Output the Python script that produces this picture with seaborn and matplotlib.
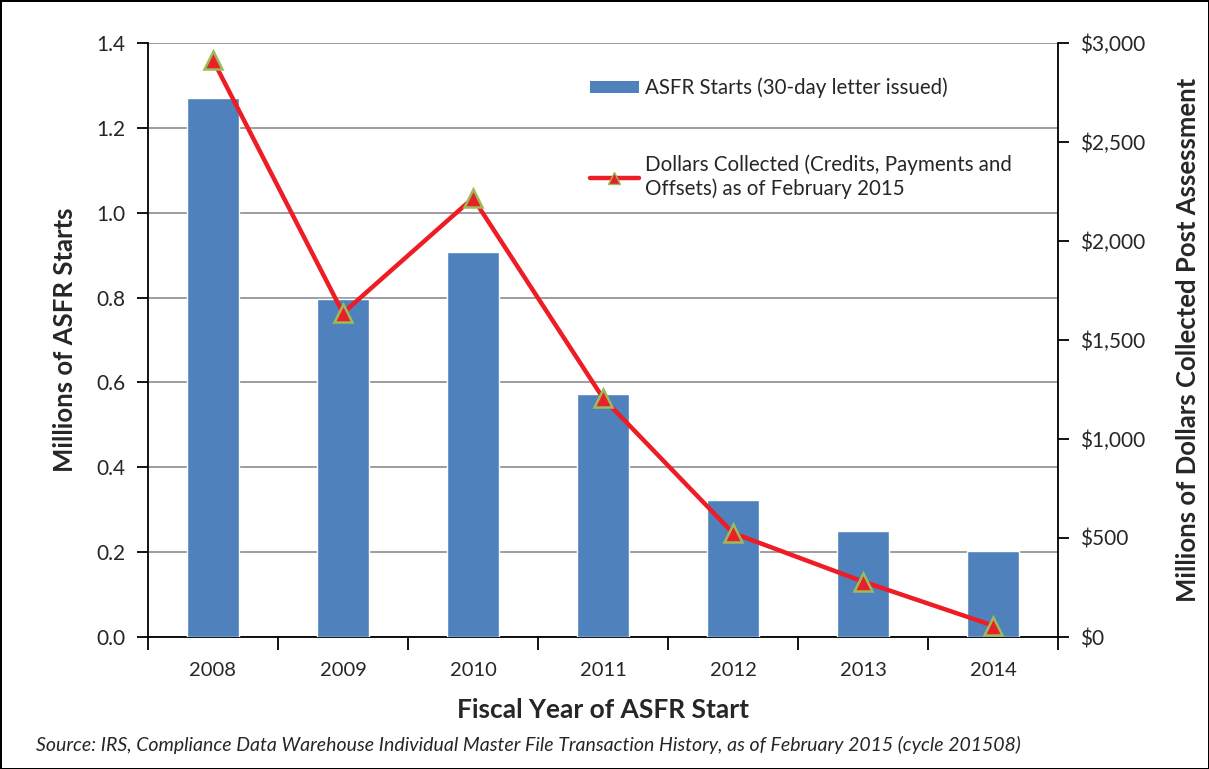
import matplotlib
matplotlib.use("Agg")
import matplotlib.pyplot as plt
import seaborn as sns
import numpy as np
import pandas as pd
from matplotlib.ticker import FuncFormatter, FixedLocator, MultipleLocator
from matplotlib.lines import Line2D
from matplotlib.patches import Patch

years = ["2008", "2009", "2010", "2011", "2012", "2013", "2014"]
asfr_starts = [1.27, 0.797, 0.907, 0.573, 0.323, 0.25, 0.203]
dollars_collected = [2914, 1636, 2217, 1207, 525, 280, 58]

bar_label = "ASFR Starts (30-day letter issued)"
line_label = "Dollars Collected (Credits, Payments and\nOffsets) as of February 2015"
source = "Source: IRS, Compliance Data Warehouse Individual Master File Transaction History, as of February 2015 (cycle 201508)"

sns.set_theme(style="white")
plt.rcParams["font.family"] = ["Lato", "DejaVu Sans"]

BAR_C = "#4F81BD"
LINE_C = "#EE1C25"
EDGE_C = "#9BBB59"

df = pd.DataFrame({"year": years, "starts": asfr_starts, "dollars": dollars_collected})

fig = plt.figure(figsize=(12.09, 7.69), dpi=100)
fig.patch.set_edgecolor("black")
fig.patch.set_linewidth(2)
ax = fig.add_axes([148/1209, 1-637/769, (1058-148)/1209, (637-43)/769])

sns.barplot(data=df, x="year", y="starts", color=BAR_C, saturation=1,
            width=0.4, ax=ax, zorder=3)
ax.set_ylim(0, 1.4)
ax.yaxis.set_major_locator(MultipleLocator(0.2))
ax.yaxis.set_major_formatter(FuncFormatter(lambda v, p: f"{v:.1f}"))
ax.grid(axis="y", color="#8c8c8c", linewidth=1.2, zorder=0)
ax.set_axisbelow(True)
ax.set_xlim(-0.5, len(years) - 0.5)

ax2 = ax.twinx()
sns.pointplot(data=df, x="year", y="dollars", color=LINE_C, markers="^",
              linewidth=3.2, markersize=10, ax=ax2)
for ln in ax2.lines:
    ln.set_markeredgecolor(EDGE_C)
    ln.set_markerfacecolor("#E8202A")
    ln.set_markeredgewidth(1.8)
    ln.set_markersize(13)
ax2.set_ylim(0, 3000)
ax2.yaxis.set_major_locator(MultipleLocator(500))
ax2.yaxis.set_major_formatter(FuncFormatter(lambda v, p: f"${v:,.0f}"))
ax2.set_xlim(-0.5, len(years) - 0.5)

for a in (ax, ax2):
    a.spines["top"].set_visible(False)
    for s in ["left", "right", "bottom"]:
        a.spines[s].set_color("black")
        a.spines[s].set_linewidth(1.3)
ax.spines["right"].set_visible(False)
ax2.spines["left"].set_visible(False)
ax2.spines["bottom"].set_visible(False)

ax.set_xticks(range(len(years)))
ax.set_xticklabels(years)
ax.tick_params(axis="x", which="major", length=0, pad=18, labelsize=14.5)
ax.xaxis.set_minor_locator(FixedLocator(np.arange(-0.5, len(years), 1.0)))
ax.tick_params(axis="x", which="minor", length=9, width=1.3, color="black", bottom=True)
ax.tick_params(axis="y", length=8, width=1.3, color="black", left=True, labelsize=15, pad=8)
ax2.tick_params(axis="y", length=8, width=1.3, color="black", right=True, labelsize=15, pad=8)

ax.set_xlabel("Fiscal Year of ASFR Start", fontsize=19, fontweight="bold", labelpad=14)
ax.set_ylabel("Millions of ASFR Starts", fontsize=18.5, fontweight="bold", labelpad=14)
ax2.set_ylabel("Millions of Dollars Collected Post Assessment", fontsize=18.5,
               fontweight="bold", labelpad=22)

handles = [Patch(facecolor=BAR_C, edgecolor="none"),
           Line2D([], [], color=LINE_C, linewidth=3.2, marker="^", markersize=9,
                  markerfacecolor="#E8202A", markeredgecolor=EDGE_C, markeredgewidth=1)]
leg = ax2.legend(handles, [bar_label, line_label], loc="upper left",
                 bbox_to_anchor=(0.465, 0.973), frameon=False, fontsize=14.8,
                 handlelength=2.4, labelspacing=2.75, handleheight=0.55,
                 handletextpad=0.3)

fig.text(36/1209, 1-745/769, source, fontsize=14, style="italic", va="center", ha="left")

fig.savefig("out.png", dpi=100)
